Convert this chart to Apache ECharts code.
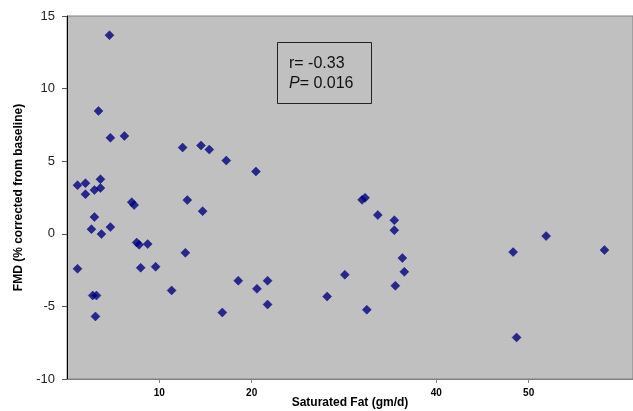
<!DOCTYPE html>
<html>
<head>
<meta charset="utf-8">
<style>
  html, body { margin: 0; padding: 0; background: #fff; }
  #chart { width: 633px; height: 411px; }
</style>
<script src="https://cdn.jsdelivr.net/npm/echarts@6/dist/echarts.min.js"></script>
</head>
<body>
<div id="chart"></div>
<script>
// saturated fat intake (gm/d) and FMD change, one entry per subject
const satFat = [
  1.14, 1.14, 2.0, 2.0, 2.65, 2.97, 2.97, 3.62, 3.62, 3.73, 4.7,
  2.79, 3.19, 3.08, 3.41, 4.6, 4.7, 6.22, 7.01, 7.27, 7.55, 7.81,
  8.74, 7.98, 9.6, 11.33, 12.82, 13.03, 12.52, 14.51, 15.41, 17.25,
  20.46, 16.82, 18.55, 20.57, 21.72, 21.72, 14.69, 28.17, 30.09, 31.96,
  32.28, 33.66, 35.45, 35.45, 36.32, 36.53, 35.56, 32.47, 48.32, 48.69,
  51.89, 58.21
];
const fmd = [
  -2.41, 3.35, 3.49, 2.73, 0.32, 1.15, 3.01, 3.76, 3.15, -0.02, 0.46,
  -4.25, -4.25, -5.69, 8.46, 13.68, 6.61, 6.74, 2.18, 1.98, -0.60, -0.76,
  -0.71, -2.34, -2.27, -3.90, -1.31, 2.32, 5.94, 6.08, 5.80, 5.04,
  4.29, -5.42, -3.23, -3.79, -3.23, -4.87, 1.56, -4.32, -2.82, 2.34,
  2.48, 1.29, 0.94, 0.25, -1.67, -2.62, -3.58, -5.23, -1.26, -7.14,
  -0.16, -1.12
];
const xTicks = [10, 20, 40, 50];
const stats = ['r= -0.33', '0.016'];

const chart = echarts.init(document.getElementById('chart'));

const points = satFat.map((x, i) => [x, fmd[i]]);

chart.setOption({
  animation: false,
  grid: {
    left: 67,
    right: 0,
    top: 16,
    bottom: 32,
    outerBoundsMode: 'none',
    containLabel: false,
    show: true,
    backgroundColor: '#c0c0c0',
    borderColor: '#808080',
    borderWidth: 1
  },
  xAxis: {
    type: 'value',
    min: 0,
    max: 61.3,
    name: 'Saturated Fat (gm/d)',
    nameLocation: 'middle',
    nameGap: 18,
    nameMoveOverlap: false,
    nameTextStyle: { fontFamily: 'Arial, Liberation Sans', fontSize: 12, fontWeight: 'bold', color: '#000' },
    axisLine: { show: true, onZero: false, lineStyle: { color: '#808080', width: 1 } },
    axisTick: { show: true, customValues: xTicks, length: 4, lineStyle: { color: '#808080' } },
    axisLabel: {
      customValues: xTicks,
      margin: 9,
      fontFamily: 'Arial, Liberation Sans',
      fontSize: 10,
      fontWeight: 'bold',
      color: '#000'
    },
    splitLine: { show: false }
  },
  yAxis: {
    type: 'value',
    min: -10,
    max: 15,
    interval: 5,
    name: 'FMD (% corrected from baseline)',
    nameLocation: 'middle',
    nameGap: 42,
    nameMoveOverlap: false,
    nameTextStyle: { fontFamily: 'Arial, Liberation Sans', fontSize: 12, fontWeight: 'bold', color: '#000' },
    axisLine: { show: true, onZero: false, lineStyle: { color: '#000', width: 1 } },
    axisTick: { show: true, length: 5, lineStyle: { color: '#555' } },
    axisLabel: {
      margin: 12,
      fontFamily: 'Arial, Liberation Sans',
      fontSize: 13,
      color: '#222'
    },
    splitLine: { show: false }
  },
  graphic: [
    {
      type: 'rect',
      shape: { x: 277.5, y: 42.5, width: 94, height: 61 },
      style: { fill: 'none', stroke: '#222', lineWidth: 1 },
      z: 10
    },
    {
      type: 'text',
      x: 289,
      y: 56,
      style: {
        text: stats[0],
        font: '16px Arial, Liberation Sans',
        fill: '#111'
      },
      z: 10
    },
    {
      type: 'text',
      x: 289,
      y: 76,
      style: {
        text: '{i|P}= ' + stats[1],
        font: '16px Arial, Liberation Sans',
        fill: '#111',
        rich: {
          i: { fontStyle: 'italic', fontSize: 16, fontFamily: 'Arial, Liberation Sans', fill: '#111' }
        }
      },
      z: 10
    }
  ],
  series: [
    {
      type: 'scatter',
      data: points,
      symbol: 'diamond',
      symbolSize: [9, 9],
      itemStyle: { color: '#000080', borderColor: '#000080', borderWidth: 0.5 }
    }
  ]
});

window.addEventListener('resize', () => chart.resize());
</script>
</body>
</html>
